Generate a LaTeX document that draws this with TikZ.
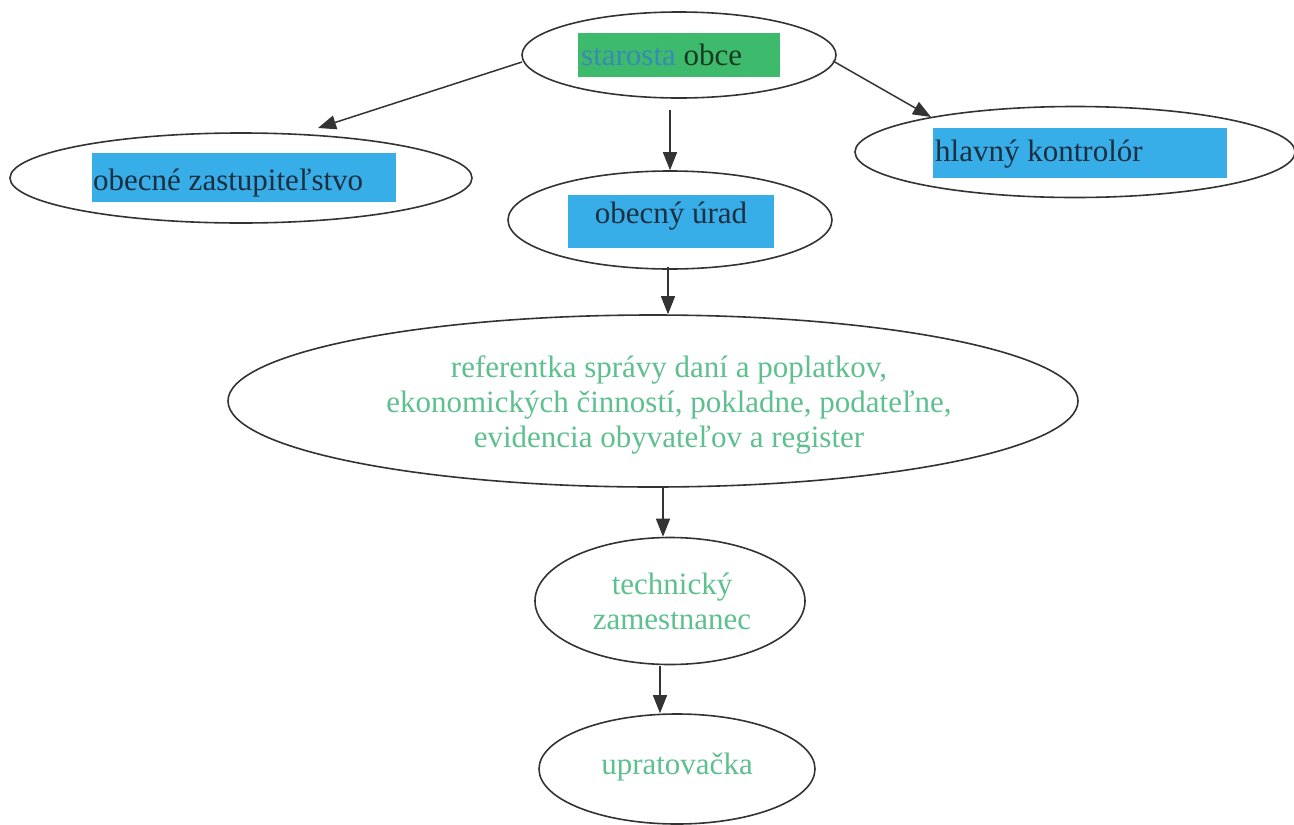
\documentclass[tikz,border=0pt]{standalone}
\usepackage{fontspec}
\setmainfont{Liberation Serif}
\usetikzlibrary{shapes.geometric,arrows.meta}
\definecolor{boxblue}{HTML}{38AEE8}
\definecolor{boxgreen}{HTML}{3DBA6C}
\definecolor{txtgreen}{HTML}{5DC08E}
\definecolor{txtdark}{HTML}{1C2E40}
\definecolor{txtteal}{HTML}{3A8AB8}
\definecolor{txtdkgreen}{HTML}{183A22}
\definecolor{edge}{HTML}{333333}
\tikzset{
  oval/.style={ellipse, draw=edge, line width=1.6pt, inner sep=0pt},
  lbl/.style={inner sep=0pt, font=\fontsize{31}{35}\selectfont},
  conn/.style={draw=edge, line width=1.5pt, -{Triangle[length=18pt,width=14pt]}},
}
\begin{document}
\begin{tikzpicture}[x=1pt,y=-1pt]
\useasboundingbox[fill=white] (0,0) rectangle (1294,825);
% ellipses
\node[oval, minimum width=314pt, minimum height=86pt] (star) at (679,55) {};
\node[oval, minimum width=462pt, minimum height=90pt] (zast) at (241,178) {};
\node[oval, minimum width=440pt, minimum height=91pt] (kontr) at (1075,152) {};
\node[oval, minimum width=324pt, minimum height=98pt] (urad) at (670,220) {};
\node[oval, minimum width=850pt, minimum height=172pt] (ref) at (653,401) {};
\node[oval, minimum width=270pt, minimum height=127pt] (tech) at (670,601) {};
\node[oval, minimum width=276pt, minimum height=110pt] (uprat) at (677,769) {};
% coloured boxes
\fill[boxgreen] (578,33) rectangle (780,77);
\fill[boxblue] (92,153) rectangle (396,202);
\fill[boxblue] (933,128) rectangle (1227,178);
\fill[boxblue] (568,195) rectangle (774,248);
% texts
\node[lbl, anchor=base west] (tstar) at (581,65) {\textcolor{txtteal}{starosta} \textcolor{txtdkgreen}{obce}};
\node[lbl, anchor=base west, text=txtdark] (tzast) at (93,190) {obecné zastupiteľstvo};
\node[lbl, anchor=base west, text=txtdark] (tkontr) at (935,161) {hlavný kontrolór};
\node[lbl, anchor=base, text=txtdark] (turad) at (671,223) {obecný úrad};
\node[lbl, align=center, text=txtgreen] (tref) at (669,405) {referentka správy daní a poplatkov,\\ekonomických činností, pokladne, podateľne,\\evidencia obyvateľov a register};
\node[lbl, align=center, text=txtgreen] (ttech) at (672,601) {technický\\zamestnanec};
\node[lbl, text=txtgreen] (tuprat) at (677,767) {upratovačka};
% connectors
\coordinate (a1) at (522,62);
\coordinate (a2) at (833,61);
\draw[conn] (a1) -- (318,128);
\draw[conn] (a2) -- (931,117);
\draw[conn] (670,110) -- (urad.north);
\draw[conn] (668,267) -- (ref.north -| 668,0);
\draw[conn] (663,488) -- (tech.north -| 663,0);
\draw[conn] (660,666) -- (uprat.north -| 660,0);
\end{tikzpicture}
\end{document}
